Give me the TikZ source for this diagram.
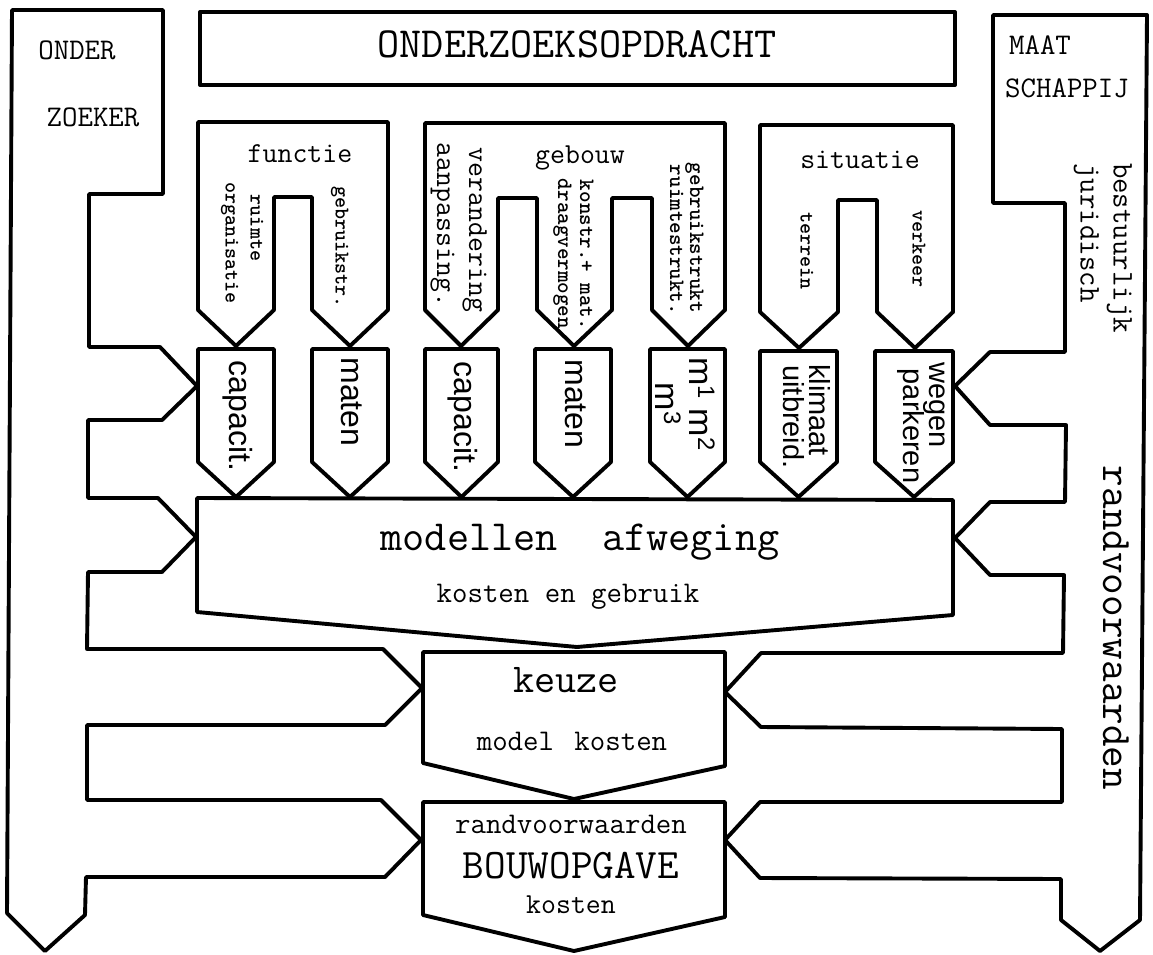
\documentclass[tikz,border=0pt]{standalone}
\usepackage{fontspec}
\newfontfamily\sansf{Liberation Sans}
\begin{document}
\begin{tikzpicture}[x=1pt,y=-1pt,
  shp/.style={draw=black, line width=3.9pt, line join=round, fill=white},
  typ/.style={inner sep=0pt, font={\ttfamily\fontsize{#1}{#1}\selectfont}},
  typb/.style={inner sep=0pt, font={\ttfamily\bfseries\fontsize{#1}{#1}\selectfont}},
  sns/.style={inner sep=0pt, font={\sansf\fontsize{#1}{#1}\selectfont}}]
\useasboundingbox (0,0) rectangle (1153,955);
\fill[white] (0,0) rectangle (1153,955);

% left big shape (ONDERZOEKER)
\draw[shp] (12,10) -- (163,10) -- (163,194) -- (89,194) -- (89,347) -- (160,347)
  -- (197,386) -- (162,420) -- (88,420) -- (88,498) -- (158,498) -- (196,537)
  -- (162,572) -- (88,572) -- (87,649) -- (383,649) -- (422,688) -- (385,725)
  -- (87,725) -- (87,800) -- (381,800) -- (421,840) -- (385,877) -- (86,877)
  -- (85,915) -- (45,951) -- (7,913) -- cycle;

% right big shape (MAATSCHAPPIJ)
\draw[shp] (993,15) -- (1147,15) -- (1140,920) -- (1100,951) -- (1061,920)
  -- (1061,879) -- (760,878) -- (725,840) -- (760,802) -- (1062,802)
  -- (1062,729) -- (761,727) -- (725,692) -- (761,653) -- (1063,653)
  -- (1064,575) -- (990,575) -- (955,538) -- (990,502) -- (1065,502)
  -- (1066,425) -- (990,425) -- (955,386) -- (990,352) -- (1065,352)
  -- (1065,203) -- (993,203) -- cycle;

% top box
\draw[shp] (200,12) rectangle (955,85);

% upper prong shapes
\draw[shp] (198,122) -- (388,122) -- (388,310) -- (350,346) -- (312,310) -- (312,197)
  -- (274,197) -- (274,310) -- (236,346) -- (198,310) -- cycle;
\draw[shp] (425,123) -- (725,123) -- (725,310) -- (688,346) -- (652,310) -- (652,198)
  -- (612,198) -- (612,310) -- (574,346) -- (537,310) -- (537,198) -- (498,198)
  -- (498,310) -- (461,346) -- (425,310) -- cycle;
\draw[shp] (760,125) -- (953,125) -- (953,312) -- (915,348) -- (877,312) -- (877,200)
  -- (838,200) -- (838,312) -- (799,348) -- (760,312) -- cycle;

% lower pentagons
\foreach \l/\r/\t in {198/274/349, 312/388/349, 425/498/349, 535/611/349,
                      650/725/349, 760/837/351, 875/953/351}
  \draw[shp] (\l,\t) -- (\r,\t) -- (\r,462) -- ({(\l+\r)/2},497) -- (\l,462) -- cycle;

% modellen, keuze, bouwopgave
\draw[shp] (197,498) -- (953,500) -- (953,615) -- (577,647) -- (197,612) -- cycle;
\draw[shp] (423,652) -- (725,652) -- (725,766) -- (574,799) -- (423,763) -- cycle;
\draw[shp] (423,802) -- (725,802) -- (725,917) -- (574,951) -- (423,915) -- cycle;

% horizontal texts
\node[typ=30, anchor=base] (onder) at (77,60) {ONDER};
\node[typ=30, anchor=base] (zoeker) at (93,127) {ZOEKER};
\node[typ=30, anchor=base] (maat) at (1040,55) {MAAT};
\node[typ=30, anchor=base] (schap) at (1067,98) {SCHAPPIJ};
\node[typ=43, anchor=base] (opdt) at (577,58) {ONDERZOEKSOPDRACHT};
\node[typ=29, anchor=base] (fun) at (300,162) {functie};
\node[typ=29, anchor=base] (geb) at (580,163) {gebouw};
\node[typ=29, anchor=base] (sit) at (860,168) {situatie};
\node[typ=43, anchor=base] (mod) at (580,550) {modellen\ \ afweging};
\node[typ=30, anchor=base] (keg) at (568,602) {kosten en gebruik};
\node[typ=41, anchor=base] (keu) at (566,692) {keuze};
\node[typ=30, anchor=base] (mk) at (572,750) {model\hspace{5pt} kosten};
\node[typ=30, anchor=base] (rvw) at (571,833) {randvoorwaarden};
\node[typ=42, anchor=base] (bouw) at (571,878) {BOUWOPGAVE};
\node[typ=29, anchor=base] (kos) at (571,913) {kosten};

% rotated typewriter texts
\node[typb=21, rotate=-90, anchor=base] (ruim) at (250.5,228) {ruimte};
\node[typb=21, rotate=-90, anchor=base] (org) at (225.5,243) {organisatie};
\node[typb=21, rotate=-90, anchor=base] (gbs) at (335.5,247) {gebruikstr.};
\node[typ=29, rotate=-90, anchor=base] (ver) at (469,230) {verandering};
\node[typ=29, rotate=-90, anchor=base] (aan) at (437,225) {aanpassing.};
\node[typb=22, rotate=-90, anchor=base] (kon) at (580,255) {konstr.+ mat.};
\node[typb=22, rotate=-90, anchor=base] (dra) at (558,254) {draagvermogen};
\node[typb=22, rotate=-90, anchor=base] (gbk) at (690,238) {gebruikstrukt};
\node[typb=22, rotate=-90, anchor=base] (rsk) at (670,240) {ruimtestrukt.};
\node[typb=21, rotate=-90, anchor=base] (ter) at (800.5,251) {terrein};
\node[typb=21, rotate=-90, anchor=base] (vke) at (912.5,249) {verkeer};
\node[typ=30, rotate=-90, anchor=base] (best) at (1113.5,248) {bestuurlijk};
\node[typ=30, rotate=-90, anchor=base] (jur) at (1080.5,233) {juridisch};
\node[typ=42, rotate=-90, anchor=base] (rvr) at (1103,628) {randvoorwaarden};

% rotated sans labels
\node[sns=32, rotate=-90, anchor=base] (cap1) at (229,416) {capacit.};
\node[sns=32, rotate=-90, anchor=base] (mat1) at (341,402) {maten};
\node[sns=32, rotate=-90, anchor=base] (cap2) at (454,417) {capacit.};
\node[sns=32, rotate=-90, anchor=base] (mat2) at (565,404) {maten};
\node[sns=34, rotate=-90, anchor=base] (m12) at (689,404) {m\textsuperscript{1} m\textsuperscript{2}};
\node[sns=34, rotate=-90, anchor=base] (m3) at (655,404) {m\textsuperscript{3}};
\node[sns=29, rotate=-90, anchor=base] (kli) at (809,410) {klimaat};
\node[sns=29, rotate=-90, anchor=base] (uit) at (783,417) {uitbreid.};
\node[sns=29, rotate=-90, anchor=base] (weg) at (929,405) {wegen};
\node[sns=29, rotate=-90, anchor=base] (par) at (903,426) {parkeren};
\end{tikzpicture}
\end{document}
